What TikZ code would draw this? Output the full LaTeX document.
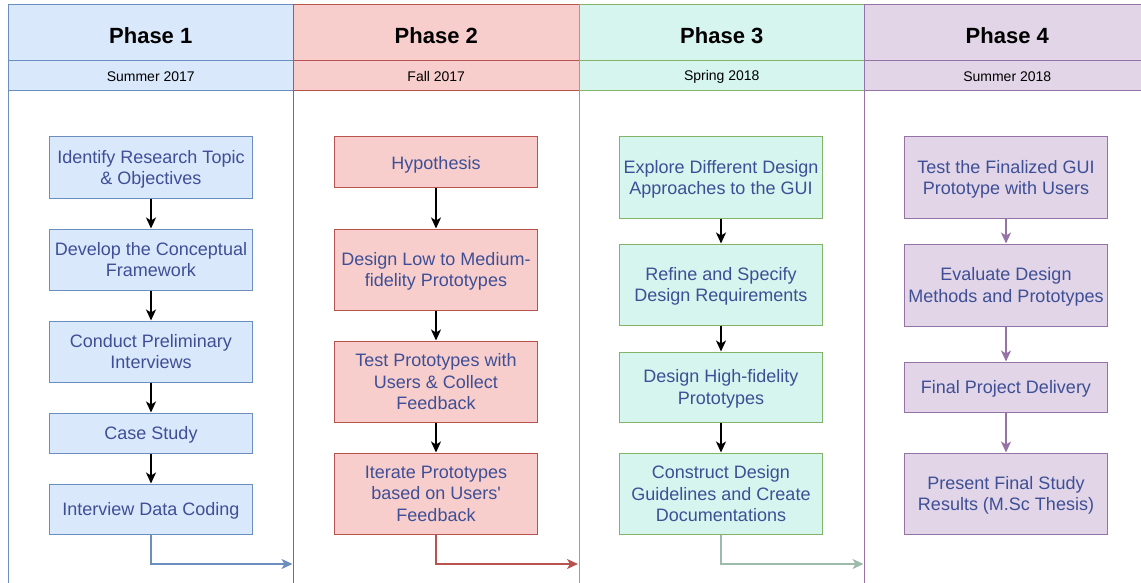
\documentclass[tikz,border=0pt]{standalone}
\usepackage{fontspec}
\setmainfont{Liberation Sans}[Ligatures=TeXOff]
\usetikzlibrary{arrows.meta}

\definecolor{blueFill}{HTML}{DAE8FC}
\definecolor{blueLine}{HTML}{6C8EBF}
\definecolor{redFill}{HTML}{F8CECC}
\definecolor{redLine}{HTML}{B85450}
\definecolor{mintFill}{HTML}{D5F5EE}
\definecolor{mintLine}{HTML}{82B366}
\definecolor{lilacFill}{HTML}{E1D5E7}
\definecolor{lilacLine}{HTML}{9673A6}
\definecolor{boxText}{HTML}{3E4F96}
\definecolor{greyGreen}{HTML}{9DBBAB}

\tikzset{
  phasehead/.style={draw, line width=1pt, minimum width=285.5pt, minimum height=56pt, inner sep=0pt, font=\fontsize{22}{26}\selectfont\bfseries, execute at begin node={\rule{0pt}{21pt}}},
  datehead/.style={draw, line width=1pt, minimum width=285.5pt, minimum height=30pt, inner sep=0pt, font=\fontsize{14}{17}\selectfont, execute at begin node={\rule{0pt}{12pt}}},
  stepbox/.style={draw, line width=1pt, minimum width=203pt, inner sep=0pt, align=center, text=boxText, font=\fontsize{18}{21.5}\selectfont, text depth=-5pt},
  flow/.style={line width=1.5pt, -{Stealth[length=11pt,width=10pt,inset=3pt]}},
}

\begin{document}
\begin{tikzpicture}[x=1pt, y=-1pt]

    \useasboundingbox (0,0) rectangle (1141,583);
    \clip (0,0) rectangle (1141,583);
    \fill[white] (0,0) rectangle (1141,583);

    % lanes
    \draw[blueLine, line width=1pt, fill=white] (8,91) rectangle (293.5,600);
    \node[phasehead, draw=blueLine, fill=blueFill] (ph1) at (150.75,33) {Phase 1};
    \node[datehead, draw=blueLine, fill=blueFill] (dt1) at (150.75,76) {Summer 2017};

    \draw[redLine, line width=1pt, fill=white] (293.5,91) rectangle (579,600);
    \node[phasehead, draw=redLine, fill=redFill] (ph2) at (436.25,33) {Phase 2};
    \node[datehead, draw=redLine, fill=redFill] (dt2) at (436.25,76) {Fall 2017};

    \draw[mintLine, line width=1pt, fill=white] (579,91) rectangle (864.5,600);
    \node[phasehead, draw=mintLine, fill=mintFill] (ph3) at (721.75,33) {Phase 3};
    \node[datehead, draw=mintLine, fill=mintFill] (dt3) at (721.75,76) {Spring 2018};

    \draw[lilacLine, line width=1pt, fill=white] (864.5,91) rectangle (1150,600);
    \node[phasehead, draw=lilacLine, fill=lilacFill] (ph4) at (1007.25,33) {Phase 4};
    \node[datehead, draw=lilacLine, fill=lilacFill] (dt4) at (1007.25,76) {Summer 2018};

    % phase 1
    \node[stepbox, draw=blueLine, fill=blueFill, minimum height=61pt] (s11) at (151,167.5) {Identify Research Topic\\\& Objectives};
    \node[stepbox, draw=blueLine, fill=blueFill, minimum height=61pt] (s12) at (151,259.5) {Develop the Conceptual\\Framework};
    \node[stepbox, draw=blueLine, fill=blueFill, minimum height=61pt] (s13) at (151,351.5) {Conduct Preliminary\\Interviews};
    \node[stepbox, draw=blueLine, fill=blueFill, minimum height=40pt] (s14) at (151,433) {Case Study};
    \node[stepbox, draw=blueLine, fill=blueFill, minimum height=50pt] (s15) at (151,509) {Interview Data Coding};

    % phase 2
    \node[stepbox, draw=redLine, fill=redFill, minimum height=51pt] (s21) at (436,162.5) {Hypothesis};
    \node[stepbox, draw=redLine, fill=redFill, minimum height=81pt] (s22) at (436,269.5) {Design Low to Medium-\\fidelity Prototypes};
    \node[stepbox, draw=redLine, fill=redFill, minimum height=81pt] (s23) at (436,381.5) {Test Prototypes with\\Users \& Collect\\Feedback};
    \node[stepbox, draw=redLine, fill=redFill, minimum height=81pt] (s24) at (436,493.5) {Iterate Prototypes\\based on Users'\\Feedback};

    % phase 3
    \node[stepbox, draw=mintLine, fill=mintFill, minimum height=81pt] (s31) at (721,177.5) {Explore Different Design\\Approaches to the GUI};
    \node[stepbox, draw=mintLine, fill=mintFill, minimum height=81pt] (s32) at (721,284.5) {Refine and Specify\\Design Requirements};
    \node[stepbox, draw=mintLine, fill=mintFill, minimum height=70pt] (s33) at (721,387) {Design High-fidelity\\Prototypes};
    \node[stepbox, draw=mintLine, fill=mintFill, minimum height=81pt] (s34) at (721,493.5) {Construct Design\\Guidelines and Create\\Documentations};

    % phase 4
    \node[stepbox, draw=lilacLine, fill=lilacFill, minimum height=81pt] (s41) at (1006,177.5) {Test the Finalized GUI\\Prototype with Users};
    \node[stepbox, draw=lilacLine, fill=lilacFill, minimum height=82pt] (s42) at (1006,285) {Evaluate Design\\Methods and Prototypes};
    \node[stepbox, draw=lilacLine, fill=lilacFill, minimum height=50pt] (s43) at (1006,387) {Final Project Delivery};
    \node[stepbox, draw=lilacLine, fill=lilacFill, minimum height=81pt] (s44) at (1006,493.5) {Present Final Study\\Results (M.Sc Thesis)};

    % arrows
    \draw[flow] (s11) -- (s12);
    \draw[flow] (s12) -- (s13);
    \draw[flow] (s13) -- (s14);
    \draw[flow] (s14) -- (s15);
    \draw[flow] (s21) -- (s22);
    \draw[flow] (s22) -- (s23);
    \draw[flow] (s23) -- (s24);
    \draw[flow] (s31) -- (s32);
    \draw[flow] (s32) -- (s33);
    \draw[flow] (s33) -- (s34);
    \draw[flow, lilacLine] (s41) -- (s42);
    \draw[flow, lilacLine] (s42) -- (s43);
    \draw[flow, lilacLine] (s43) -- (s44);

    % to the next phase
    \coordinate (x1) at (292.5,564);
    \coordinate (x2) at (578,564);
    \coordinate (x3) at (863.5,564);
    \draw[flow, blueLine] (s15) |- (x1);
    \draw[flow, redLine] (s24) |- (x2);
    \draw[flow, greyGreen] (s34) |- (x3);

\end{tikzpicture}
\end{document}
